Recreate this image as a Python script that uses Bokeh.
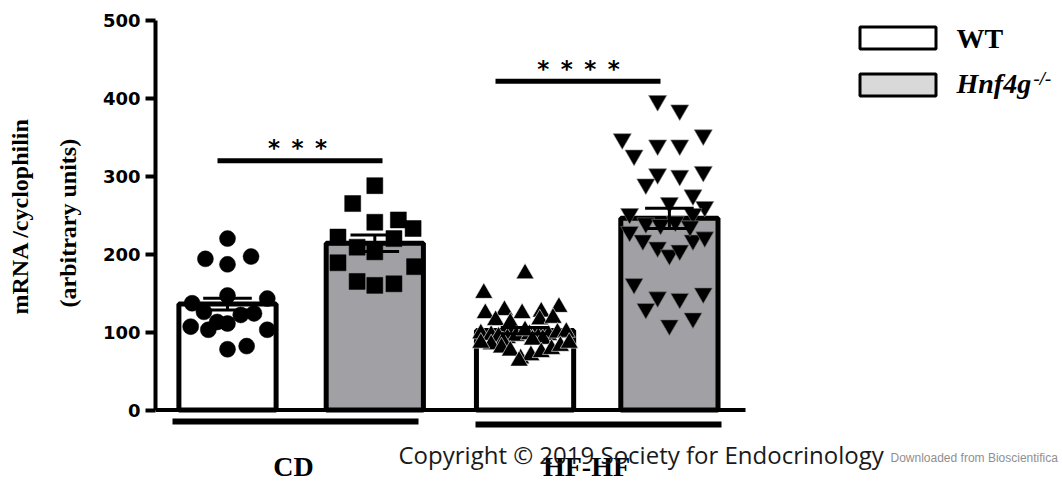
from bokeh.plotting import figure
from bokeh.models import Range1d, FixedTicker, Title
from bokeh.core.properties import value
from bokeh.embed import file_html
from bokeh.resources import INLINE

# ---------------- data ----------------
groups = ["CD", "HF-HF"]
genotypes = ["WT", "Hnf4g"]
bar_pos = [1.0, 2.0, 3.02, 4.0]
bar_means = [136, 214, 102, 246]
bar_sem = [7.5, 10.5, 4, 13]

cd_wt_vals = [220, 194, 197, 187, 147, 137, 143, 126, 122, 124, 107, 103, 111, 103, 78, 82, 113]
cd_wt_jit = [0.0, -0.15, 0.16, 0.0, 0.0, -0.24, 0.27, -0.16, 0.09, 0.18, -0.25, -0.13, 0.0, 0.27, 0.0, 0.13, -0.07]

cd_ko_vals = [288, 265, 241, 244, 233, 222, 220, 209, 203, 189, 184, 165, 160, 162]
cd_ko_jit = [0.0, -0.15, 0.0, 0.16, 0.26, -0.25, 0.13, -0.12, 0.0, -0.25, 0.27, -0.12, 0.0, 0.13]

hf_wt_vals = [175, 150, 124, 128, 124, 126, 132, 115, 112, 116, 118,
              98, 96, 94, 92, 95, 97, 93, 96, 99, 100, 102, 88, 91, 90,
              84, 80, 76, 66, 70, 74, 78, 82, 86, 86,
              63]
hf_wt_jit = [0.0, -0.28, -0.27, -0.14, -0.02, 0.11, 0.23, -0.2, -0.1, 0.1, 0.19,
             -0.3, -0.23, -0.18, -0.12, -0.06, 0.03, 0.09, 0.16, 0.22, 0.28, 0.0, -0.15, 0.12, 0.05,
             -0.23, -0.16, -0.1, -0.03, 0.04, 0.11, 0.18, 0.24, -0.3, 0.3,
             -0.04]

hf_ko_vals = [397, 385, 353, 348, 340, 340, 327, 303, 301, 306, 290, 276, 266, 261, 252, 252,
              229, 218, 209, 199, 205, 218, 222,
              240, 238, 242, 236,
              162, 145, 143, 150, 130, 118, 109]
hf_ko_jit = [-0.08, 0.07, 0.23, -0.32, -0.08, 0.07, -0.24, -0.08, 0.07, 0.23, -0.16, 0.16, 0.0, 0.24, -0.27, 0.16,
             -0.27, -0.18, -0.08, 0.0, 0.07, 0.16, 0.24,
             -0.16, -0.06, 0.04, 0.14,
             -0.24, -0.08, 0.07, 0.23, -0.16, 0.16, 0.0]

y_ticks = [0, 100, 200, 300, 400, 500]
y_title = ["mRNA /cyclophilin", "(arbitrary units)"]
sig_labels = ["*\u2002*\u2002*", "*\u2002*\u2002*\u2002*"]
sig_heights = [320, 422]

# ---------------- geometry helpers (pixel -> data, for annotations) ----------------
PX_PER_X = 147.3
PX_X1 = 227.0
PY0 = 409.5
PX_PER_Y = 0.779


def dx(px):
    return 1 + (px - PX_X1) / PX_PER_X


def dy(py):
    return (PY0 - py) / PX_PER_Y


p = figure(width=1062, height=482, output_backend="svg", toolbar_location=None,
           x_range=Range1d(dx(155), dx(1062)), y_range=Range1d(dy(482), dy(0)),
           x_axis_location=None, min_border_left=155, min_border_right=0,
           min_border_top=0, min_border_bottom=0, outline_line_color=None,
           background_fill_color="white", border_fill_color="white")
p.grid.visible = False

ya = p.yaxis[0]
ya.bounds = (0, 500)
ya.ticker = FixedTicker(ticks=y_ticks)
ya.axis_line_width = 4
ya.major_tick_line_width = 4
ya.major_tick_out = 10
ya.major_tick_in = 0
ya.minor_tick_line_color = None
ya.major_label_text_font = "DejaVu Sans"
ya.major_label_text_font_style = "bold"
ya.major_label_text_font_size = "18px"
ya.major_label_text_color = "black"
ya.major_label_standoff = 5

# y title: two rotated lines on the left side (inner line first)
p.add_layout(Title(text=y_title[1], align="left", offset=175, standoff=37,
                   text_font="Liberation Serif", text_font_style="bold",
                   text_font_size="24px", text_color="black"), "left")
p.add_layout(Title(text=y_title[0], align="left", offset=168, standoff=4,
                   text_font="Liberation Serif", text_font_style="bold",
                   text_font_size="24px", text_color="black"), "left")

# bars
p.vbar(x=bar_pos, top=bar_means, bottom=0, width=0.66,
       fill_color=["white", "#a1a1a5", "white", "#a1a1a5"],
       line_color="black", line_width=5)

# baseline (x axis line)
p.segment(x0=[dx(155)], y0=[0], x1=[dx(745)], y1=[0], line_color="black", line_width=4)

# points
p.scatter(x=[bar_pos[0] + j for j in cd_wt_jit], y=cd_wt_vals, marker="circle",
          size=16, fill_color="black", line_color="black", line_width=0.5)
p.scatter(x=[bar_pos[1] + j for j in cd_ko_jit], y=cd_ko_vals, marker="square",
          size=16, fill_color="black", line_color="black", line_width=0.5)
p.scatter(x=[bar_pos[2] + j for j in hf_wt_jit], y=hf_wt_vals, marker="triangle",
          size=18, fill_color="black", line_color="white", line_width=0.6)
p.scatter(x=[bar_pos[3] + j for j in hf_ko_jit], y=hf_ko_vals, marker="inverted_triangle",
          size=18, fill_color="black", line_color="#777777", line_width=0.6)

# error bars
lo = [m - s for m, s in zip(bar_means, bar_sem)]
hi = [m + s for m, s in zip(bar_means, bar_sem)]
p.segment(x0=bar_pos, y0=lo, x1=bar_pos, y1=hi, line_color="black", line_width=3)
cap = 0.165
p.segment(x0=[x - cap for x in bar_pos], y0=hi, x1=[x + cap for x in bar_pos], y1=hi,
          line_color="black", line_width=3)
p.segment(x0=[x - cap for x in bar_pos], y0=lo, x1=[x + cap for x in bar_pos], y1=lo,
          line_color="black", line_width=3)

# significance bars
p.segment(x0=[dx(217), dx(495)], y0=sig_heights, x1=[dx(382), dx(660)], y1=sig_heights,
          line_color="black", line_width=5)
p.text(x=[dx(297), dx(578)], y=[dy(147.5), dy(68.5)], text=sig_labels,
       text_font=value("DejaVu Sans"), text_font_style="bold", text_font_size="23px",
       text_align="center", text_baseline="alphabetic", text_color="black")

# group underlines and labels
p.segment(x0=[dx(172), dx(475)], y0=[dy(421), dy(424)], x1=[dx(418), dx(721)],
          y1=[dy(421), dy(424)], line_color="black", line_width=6)
p.text(x=[dx(293), dx(586)], y=[dy(466), dy(466)], text=groups,
       text_font=value("Liberation Serif"), text_font_style="bold", text_font_size="28px",
       text_align="center", text_baseline="alphabetic", text_color="black")

# legend
p.quad(left=[dx(859.5), dx(859.5)], right=[dx(935.5), dx(935.5)],
       top=[dy(26.5), dy(73.5)], bottom=[dy(48.5), dy(95.5)],
       fill_color=["white", "#d9d9d9"], line_color="black", line_width=3)
p.text(x=[dx(956)], y=[dy(37.5)], text=["WT"],
       text_font=value("Liberation Serif"), text_font_style="bold", text_font_size="28px",
       text_align="left", text_baseline="alphabetic", text_color="black")
p.text(x=[dx(956)], y=[dy(83)], text=["Hnf4g"],
       text_font=value("Liberation Serif"), text_font_style="bold italic", text_font_size="28px",
       text_align="left", text_baseline="alphabetic", text_color="black")
p.text(x=[dx(1033)], y=[dy(78)], text=["-/-"],
       text_font=value("Liberation Serif"), text_font_style="bold italic", text_font_size="19px",
       text_align="left", text_baseline="alphabetic", text_color="black")

# watermark texts
p.text(x=[dx(398)], y=[dy(454)], text=["Copyright \u00a9 2019 Society for Endocrinology"],
       text_font=value("Open Sans"), text_font_size="24px",
       text_align="left", text_baseline="alphabetic", text_color="#1a1a1a")
p.text(x=[dx(890)], y=[dy(457)], text=["Downloaded from Bioscientifica"],
       text_font=value("Liberation Sans"), text_font_size="12px",
       text_align="left", text_baseline="alphabetic", text_color="#8f8f8f")

open("out.html", "w").write(file_html(p, INLINE))
